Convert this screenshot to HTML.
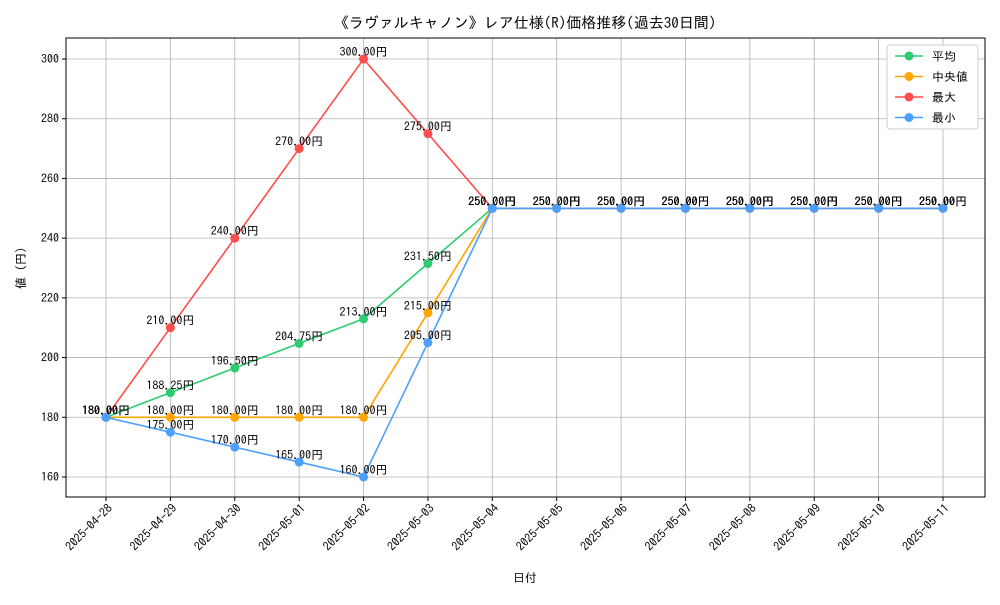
<!DOCTYPE html>
<html><head><meta charset="utf-8">
<style>
body{margin:0;background:#fff;}
svg text{font-family:"IPAGothic","Noto Sans CJK JP",sans-serif;}
</style></head>
<body>
<svg id="chart" width="1000" height="600" xmlns="http://www.w3.org/2000/svg">
<rect x="0" y="0" width="1000" height="600" fill="#fff"/>
<text x="525" y="28" font-size="15" text-anchor="middle" fill="#000">《ラヴァルキャノン》レア仕様(R)価格推移(過去30日間)</text>
<g id="grid"></g>
<g id="axes"></g>
<g id="series"></g>
<g id="labels"></g>
<text x="525" y="582" font-size="12" text-anchor="middle">日付</text>
<text x="25" y="268" font-size="12" text-anchor="middle" transform="rotate(-90 25 268)">値 (円)</text>
<g id="legend"></g>
</svg>
<script>
const categories=["2025-04-28","2025-04-29","2025-04-30","2025-05-01","2025-05-02","2025-05-03","2025-05-04","2025-05-05","2025-05-06","2025-05-07","2025-05-08","2025-05-09","2025-05-10","2025-05-11"];
const avgValues=[180,188.25,196.5,204.75,213,231.5,250,250,250,250,250,250,250,250];
const medianValues=[180,180,180,180,180,215,250,250,250,250,250,250,250,250];
const maxValues=[180,210,240,270,300,275,250,250,250,250,250,250,250,250];
const minValues=[180,175,170,165,160,205,250,250,250,250,250,250,250,250];
const yTicks=[160,180,200,220,240,260,280,300];
const seriesNames=["平均","中央値","最大","最小"];

const NS="http://www.w3.org/2000/svg";
const L=66,R=985,T=38,B=497;
const xs=i=>106+i*(943-106)/(categories.length-1);
const ys=v=>477-(v-160)*(477-59)/140;
function mk(tag,attrs,parent){const e=document.createElementNS(NS,tag);for(const k in attrs)e.setAttribute(k,attrs[k]);parent.appendChild(e);return e;}
const grid=document.getElementById('grid'),axes=document.getElementById('axes'),ser=document.getElementById('series'),lab=document.getElementById('labels'),leg=document.getElementById('legend');
categories.forEach((c,i)=>{
  const g=mk('line',{x1:xs(i),x2:xs(i),y1:T,y2:B,stroke:'#b0b0b0','stroke-width':0.8},grid);
  
  
  const tk=mk('line',{x1:xs(i),x2:xs(i),y1:B,y2:B+4,stroke:'#000'},axes);
  
  
  const ax=xs(i)+7, ay=B+12;
  const t=mk('text',{x:ax,y:ay,'font-size':12,'text-anchor':'end',transform:`rotate(-45 ${ax} ${ay})`},axes);
  t.textContent=c;
  
  
});
yTicks.forEach(v=>{
  const g=mk('line',{x1:L,x2:R,y1:ys(v),y2:ys(v),stroke:'#b0b0b0','stroke-width':0.8},grid);
  
  
  const tk=mk('line',{x1:L-4,x2:L,y1:ys(v),y2:ys(v),stroke:'#000'},axes);
  
  
  const t=mk('text',{x:L-7,y:ys(v)+4,'font-size':12,'text-anchor':'end'},axes);
  t.textContent=v;
  
  
});
const frame=mk('rect',{x:L,y:T,width:R-L,height:B-T,fill:'none',stroke:'#000','stroke-width':1},axes);


const colors=['#2ecc71','#ffa500','#ff4d4d','#4d9fff'];
const keys=['average','median','max','min'];
const data=[avgValues,medianValues,maxValues,minValues];
data.forEach((vals,s)=>{
  const pl=mk('polyline',{points:vals.map((v,i)=>xs(i)+','+ys(v)).join(' '),fill:'none',stroke:colors[s],'stroke-width':1.6},ser);
  
  
  vals.forEach((v,i)=>{
    const c=mk('circle',{cx:xs(i),cy:ys(v),r:4.5,fill:colors[s]},ser);
    
    
    const t=mk('text',{x:xs(i),y:ys(v)-3,'font-size':12,'text-anchor':'middle',fill:'#000'},lab);
    t.textContent=v.toFixed(2)+'円';
    
    
  });
});
const box=mk('rect',{x:887,y:45,width:91,height:84,fill:'#fff',stroke:'#ccc',rx:3},leg);


seriesNames.forEach((n,s)=>{
  const y=56+s*20.5;
  const g=mk('g',{},leg);
  
  
  mk('line',{x1:895,x2:923,y1:y,y2:y,stroke:colors[s],'stroke-width':1.6},g);
  mk('circle',{cx:909,cy:y,r:4.5,fill:colors[s]},g);
  const t=mk('text',{x:932,y:y+4.5,'font-size':12},g);
  t.textContent=n;
});
</script>
</body></html>
